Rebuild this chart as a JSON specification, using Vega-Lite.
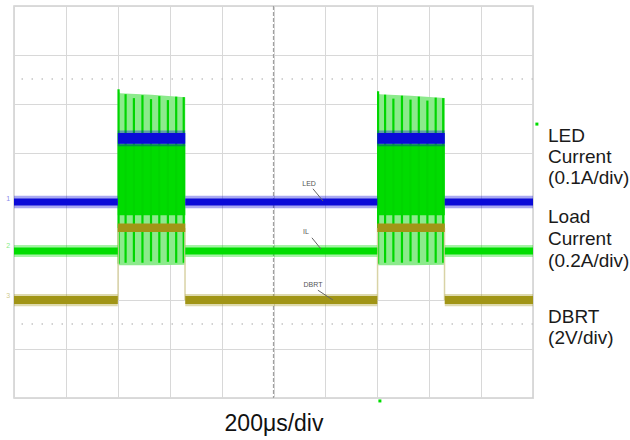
{
  "$schema": "https://vega.github.io/schema/vega-lite/v6.json",
  "autosize": "none",
  "width": 519,
  "height": 392,
  "padding": {"left": 14, "top": 6, "right": 97, "bottom": 42},
  "background": "white",
  "config": {
    "view": {"stroke": "#cfcfcf", "strokeWidth": 1.5},
    "font": "Liberation Sans"
  },
  "datasets": {
    "bands": [
      {"s": "LED", "k": "fringe", "x0": 0, "x1": 400, "lo": 3.87, "hi": 4.13},
      {"s": "LED", "k": "fringe", "x0": 660, "x1": 1400, "lo": 3.87, "hi": 4.13},
      {"s": "LED", "k": "fringe", "x0": 1660, "x1": 2000, "lo": 3.87, "hi": 4.13},
      {"s": "LED", "k": "fringe", "x0": 400, "x1": 660, "lo": 5.14, "hi": 5.46},
      {"s": "LED", "k": "fringe", "x0": 1400, "x1": 1660, "lo": 5.14, "hi": 5.46},
      {"s": "IL", "k": "fringe", "x0": 0, "x1": 400, "lo": 2.88, "hi": 3.12},
      {"s": "IL", "k": "fringe", "x0": 660, "x1": 1400, "lo": 2.88, "hi": 3.12},
      {"s": "IL", "k": "fringe", "x0": 1660, "x1": 2000, "lo": 2.88, "hi": 3.12},
      {"s": "DBRT", "k": "fringe", "x0": 0, "x1": 400, "lo": 1.87, "hi": 2.12},
      {"s": "DBRT", "k": "fringe", "x0": 660, "x1": 1400, "lo": 1.87, "hi": 2.12},
      {"s": "DBRT", "k": "fringe", "x0": 1660, "x1": 2000, "lo": 1.87, "hi": 2.12},
      {"s": "LED", "k": "core", "x0": 0, "x1": 400, "lo": 3.93, "hi": 4.07},
      {"s": "LED", "k": "core", "x0": 660, "x1": 1400, "lo": 3.93, "hi": 4.07},
      {"s": "LED", "k": "core", "x0": 1660, "x1": 2000, "lo": 3.93, "hi": 4.07},
      {"s": "LED", "k": "core", "x0": 400, "x1": 660, "lo": 5.19, "hi": 5.41},
      {"s": "LED", "k": "core", "x0": 1400, "x1": 1660, "lo": 5.19, "hi": 5.41},
      {"s": "IL", "k": "core", "x0": 0, "x1": 400, "lo": 2.93, "hi": 3.07},
      {"s": "IL", "k": "core", "x0": 660, "x1": 1400, "lo": 2.93, "hi": 3.07},
      {"s": "IL", "k": "core", "x0": 1660, "x1": 2000, "lo": 2.93, "hi": 3.07},
      {"s": "DBRT", "k": "core", "x0": 0, "x1": 400, "lo": 1.92, "hi": 2.08},
      {"s": "DBRT", "k": "core", "x0": 660, "x1": 1400, "lo": 1.92, "hi": 2.08},
      {"s": "DBRT", "k": "core", "x0": 1660, "x1": 2000, "lo": 1.92, "hi": 2.08},
      {"s": "DBRT", "k": "core", "x0": 400, "x1": 660, "lo": 3.39, "hi": 3.56},
      {"s": "DBRT", "k": "core", "x0": 1400, "x1": 1660, "lo": 3.39, "hi": 3.56}
    ],
    "envelope": [
      {"p": 1, "t": 400, "top": 6.31, "bot": 2.71},
      {"p": 1, "t": 408, "top": 6.22, "bot": 2.71},
      {"p": 1, "t": 530, "top": 6.19, "bot": 2.71},
      {"p": 1, "t": 660, "top": 6.14, "bot": 2.72},
      {"p": 2, "t": 1400, "top": 6.27, "bot": 2.71},
      {"p": 2, "t": 1408, "top": 6.2, "bot": 2.71},
      {"p": 2, "t": 1530, "top": 6.17, "bot": 2.71},
      {"p": 2, "t": 1660, "top": 6.12, "bot": 2.72}
    ],
    "core": [
      {"x0": 400, "x1": 660, "lo": 3.73, "hi": 5.18},
      {"x0": 1400, "x1": 1660, "lo": 3.73, "hi": 5.18}
    ],
    "spikes": [
      {"t": 403, "lo": 2.74, "hi": 6.3},
      {"t": 430, "lo": 2.76, "hi": 6.2},
      {"t": 462, "lo": 2.78, "hi": 6.12},
      {"t": 495, "lo": 2.76, "hi": 6.18},
      {"t": 528, "lo": 2.79, "hi": 6.1},
      {"t": 560, "lo": 2.76, "hi": 6.16},
      {"t": 593, "lo": 2.78, "hi": 6.08},
      {"t": 625, "lo": 2.76, "hi": 6.15},
      {"t": 654, "lo": 2.76, "hi": 6.14},
      {"t": 1403, "lo": 2.74, "hi": 6.26},
      {"t": 1430, "lo": 2.76, "hi": 6.19},
      {"t": 1462, "lo": 2.78, "hi": 6.11},
      {"t": 1495, "lo": 2.76, "hi": 6.17},
      {"t": 1528, "lo": 2.79, "hi": 6.09},
      {"t": 1560, "lo": 2.76, "hi": 6.15},
      {"t": 1593, "lo": 2.78, "hi": 6.07},
      {"t": 1625, "lo": 2.76, "hi": 6.13},
      {"t": 1654, "lo": 2.76, "hi": 6.12}
    ],
    "edges": [
      {"t": 401, "lo": 2.0, "hi": 3.47},
      {"t": 659, "lo": 2.0, "hi": 3.47},
      {"t": 1401, "lo": 2.0, "hi": 3.47},
      {"t": 1659, "lo": 2.0, "hi": 3.47}
    ],
    "dotted": [{"v": 6.51}, {"v": 1.51}],
    "centerV": [{"t": 1000}],
    "centerH": [{"v": 4}],
    "leaders": [
      {"t0": 1152, "v0": 4.27, "t1": 1191, "v1": 4.02},
      {"t0": 1148, "v0": 3.27, "t1": 1183, "v1": 3.04},
      {"t0": 1171, "v0": 2.2, "t1": 1229, "v1": 2.0}
    ],
    "tags": [
      {"label": "LED", "t": 1137, "v": 4.37},
      {"label": "IL", "t": 1125, "v": 3.39},
      {"label": "DBRT", "t": 1152, "v": 2.31}
    ],
    "chan": [
      {"label": "1", "s": "LED", "t": -22, "v": 4.06},
      {"label": "2", "s": "IL", "t": -22, "v": 3.1},
      {"label": "3", "s": "DBRT", "t": -22, "v": 2.08}
    ],
    "trig": [
      {"t": 2015, "v": 5.59},
      {"t": 1410, "v": -0.06}
    ],
    "labels": [
      {"text": "LED", "t": 2058, "v": 5.224},
      {"text": "Current", "t": 2058, "v": 4.796},
      {"text": "(0.1A/div)", "t": 2058, "v": 4.367},
      {"text": "Load", "t": 2058, "v": 3.571},
      {"text": "Current", "t": 2058, "v": 3.122},
      {"text": "(0.2A/div)", "t": 2058, "v": 2.673},
      {"text": "DBRT", "t": 2058, "v": 1.531},
      {"text": "(2V/div)", "t": 2058, "v": 1.102}
    ]
  },
  "encoding": {
    "x": {
      "type": "quantitative",
      "scale": {"domain": [0, 2000], "nice": false, "zero": false},
      "axis": {
        "values": [0, 200, 400, 600, 800, 1000, 1200, 1400, 1600, 1800, 2000],
        "grid": true, "gridColor": "#d8d8d8", "gridWidth": 1,
        "labels": false, "ticks": false, "domain": false,
        "title": "200μs/div", "titleFontSize": 23, "titleFontWeight": "normal",
        "titleFont": "Liberation Sans", "titleColor": "#111111", "titlePadding": 14
      }
    },
    "y": {
      "type": "quantitative",
      "scale": {"domain": [0, 8], "nice": false, "zero": false},
      "axis": {
        "values": [0, 1, 2, 3, 4, 5, 6, 7, 8],
        "grid": true, "gridColor": "#d8d8d8", "gridWidth": 1,
        "labels": false, "ticks": false, "domain": false, "title": null
      }
    }
  },
  "layer": [
    {
      "data": {"name": "dotted"},
      "mark": {"type": "rule", "color": "#c4c4c4", "strokeDash": [1.5, 8.5], "strokeWidth": 1.5},
      "encoding": {"y": {"field": "v", "type": "quantitative"}}
    },
    {
      "data": {"name": "centerV"},
      "mark": {"type": "rule", "color": "#a0a0a0", "strokeDash": [4, 2], "strokeWidth": 1.2},
      "encoding": {"x": {"field": "t", "type": "quantitative"}}
    },
    {
      "data": {"name": "centerH"},
      "mark": {"type": "rule", "color": "#a0a0a0", "strokeDash": [4, 2], "strokeWidth": 1.2},
      "encoding": {"y": {"field": "v", "type": "quantitative"}}
    },
    {
      "data": {"name": "envelope"},
      "mark": {"type": "area", "color": "#8cea8c", "opacity": 1},
      "encoding": {
        "x": {"field": "t", "type": "quantitative"},
        "y": {"field": "top", "type": "quantitative"},
        "y2": {"field": "bot"},
        "detail": {"field": "p"}
      }
    },
    {
      "data": {"name": "core"},
      "mark": {"type": "rect", "color": "#00dc00"},
      "encoding": {
        "x": {"field": "x0", "type": "quantitative"},
        "x2": {"field": "x1"},
        "y": {"field": "lo", "type": "quantitative"},
        "y2": {"field": "hi"}
      }
    },
    {
      "data": {"name": "spikes"},
      "mark": {"type": "rule", "color": "#00d600", "strokeWidth": 2.2},
      "encoding": {
        "x": {"field": "t", "type": "quantitative"},
        "y": {"field": "lo", "type": "quantitative"},
        "y2": {"field": "hi"}
      }
    },
    {
      "data": {"name": "edges"},
      "mark": {"type": "rule", "color": "#d9d3a6", "strokeWidth": 1.5},
      "encoding": {
        "x": {"field": "t", "type": "quantitative"},
        "y": {"field": "lo", "type": "quantitative"},
        "y2": {"field": "hi"}
      }
    },
    {
      "data": {"name": "bands"},
      "mark": {"type": "rect"},
      "encoding": {
        "x": {"field": "x0", "type": "quantitative"},
        "x2": {"field": "x1"},
        "y": {"field": "lo", "type": "quantitative"},
        "y2": {"field": "hi"},
        "color": {
          "field": "s", "type": "nominal",
          "scale": {"domain": ["LED", "IL", "DBRT"], "range": ["#0a0ad8", "#00dd00", "#a19516"]},
          "legend": null
        },
        "opacity": {
          "field": "k", "type": "nominal",
          "scale": {"domain": ["fringe", "core"], "range": [0.35, 1]},
          "legend": null
        }
      }
    },
    {
      "data": {"name": "leaders"},
      "mark": {"type": "rule", "color": "#666666", "strokeWidth": 1},
      "encoding": {
        "x": {"field": "t0", "type": "quantitative"},
        "x2": {"field": "t1"},
        "y": {"field": "v0", "type": "quantitative"},
        "y2": {"field": "v1"}
      }
    },
    {
      "data": {"name": "tags"},
      "mark": {"type": "text", "fontSize": 7, "color": "#555555", "align": "center", "baseline": "middle"},
      "encoding": {
        "x": {"field": "t", "type": "quantitative"},
        "y": {"field": "v", "type": "quantitative"},
        "text": {"field": "label"}
      }
    },
    {
      "data": {"name": "chan"},
      "mark": {"type": "text", "fontSize": 7, "align": "center", "baseline": "middle", "opacity": 0.5},
      "encoding": {
        "x": {"field": "t", "type": "quantitative"},
        "y": {"field": "v", "type": "quantitative"},
        "text": {"field": "label"},
        "color": {
          "field": "s", "type": "nominal",
          "scale": {"domain": ["LED", "IL", "DBRT"], "range": ["#0a0ad8", "#00dd00", "#a19516"]},
          "legend": null
        }
      }
    },
    {
      "data": {"name": "trig"},
      "mark": {"type": "point", "shape": "square", "filled": true, "size": 9, "color": "#00dd00", "opacity": 1},
      "encoding": {
        "x": {"field": "t", "type": "quantitative"},
        "y": {"field": "v", "type": "quantitative"}
      }
    },
    {
      "data": {"name": "labels"},
      "mark": {"type": "text", "fontSize": 19, "font": "Liberation Sans", "color": "#1a1a1a", "align": "left", "baseline": "alphabetic"},
      "encoding": {
        "x": {"field": "t", "type": "quantitative"},
        "y": {"field": "v", "type": "quantitative"},
        "text": {"field": "text"}
      }
    }
  ]
}
